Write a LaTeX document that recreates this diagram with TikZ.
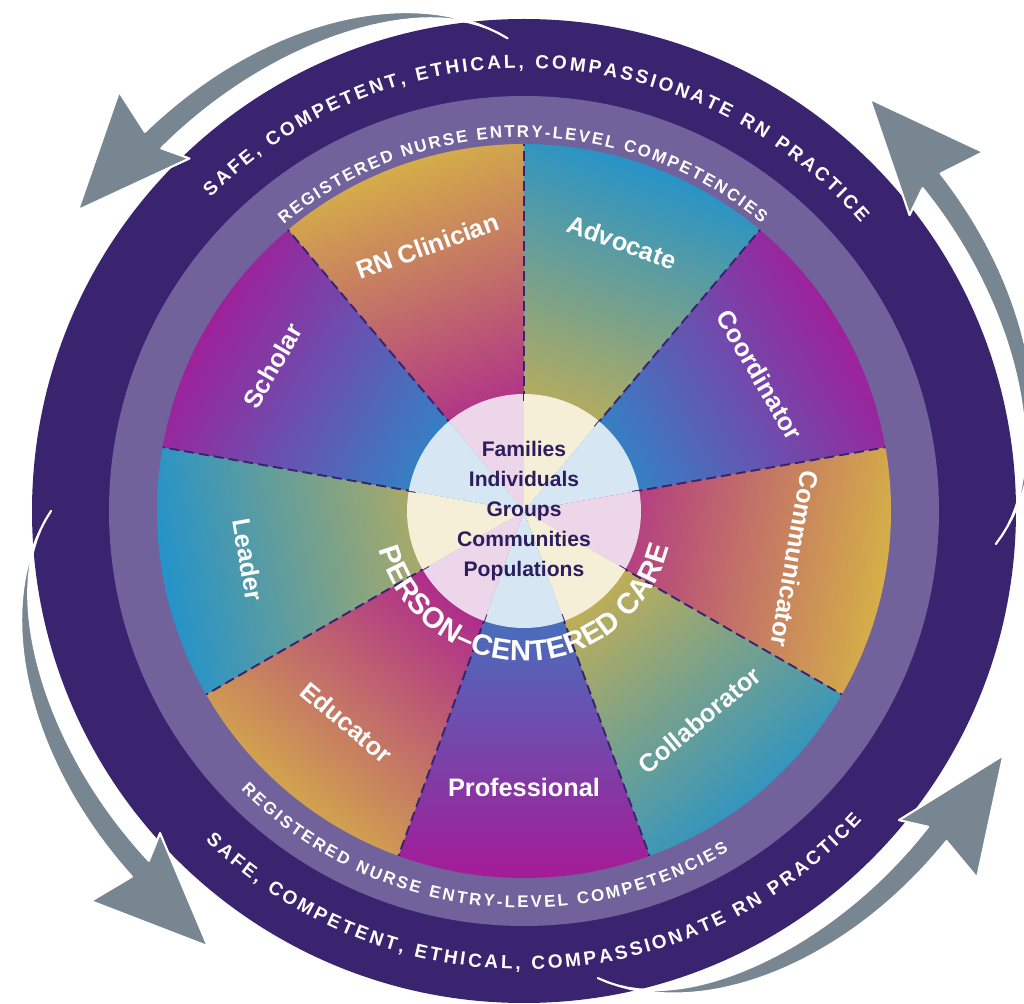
\documentclass[tikz,border=0pt]{standalone}
\usepackage{fontspec}
\setmainfont{Liberation Sans}
\usetikzlibrary{decorations.text}
\definecolor{ringdark}{RGB}{58,36,112}
\definecolor{ringmid}{RGB}{113,98,156}
\definecolor{wgold}{RGB}{214,178,70}
\definecolor{wblue}{RGB}{33,146,204}
\definecolor{wmag}{RGB}{168,24,150}
\definecolor{pinkc}{RGB}{238,214,234}
\definecolor{creamc}{RGB}{245,239,215}
\definecolor{bluec}{RGB}{214,231,243}
\definecolor{arrowgray}{RGB}{120,134,146}
\definecolor{navy}{RGB}{44,30,94}
\begin{document}
\begin{tikzpicture}[
    wedgelabel/.style={text=white, font=\bfseries\fontsize{7.2}{8}\selectfont, inner sep=0pt},
    divider/.style={draw=ringdark, line width=0.55pt, dash pattern=on 0.1cm off 0.05cm},
    loop arrow/.style={fill=arrowgray, draw=white, line width=0.6pt, line join=round}]
\useasboundingbox (0,0) rectangle (10.24,10.04);
\clip (0,0) rectangle (10.24,10.04);
\coordinate (c) at (5.24,4.93);
\fill[ringdark] (c) circle (4.92);
\fill[ringmid] (c) circle (4.15);
% competency wedges
\foreach \b/\co/\ci [evaluate=\b as \s using \b-20, evaluate=\b as \e using \b+20, evaluate=\b as \sa using \b-90] in
  {110/wgold/wmag, 70/wblue/wgold, 30/wmag/wblue, -10/wgold/wmag, -50/wblue/wgold,
   -90/wmag/wblue, -130/wgold/wmag, -170/wblue/wgold, -210/wmag/wblue}
  \shade[top color=\co, bottom color=\ci, shading angle=\sa] (c) -- ([shift={(\s:3.67)}]c) arc[start angle=\s, end angle=\e, radius=3.67] -- cycle;
% dividers and the inner circle
\foreach \b/\cp [evaluate=\b as \s using \b-20, evaluate=\b as \e using \b+20] in
  {110/pinkc, 70/creamc, 30/bluec, -10/pinkc, -50/creamc, -90/bluec, -130/pinkc, -170/creamc, -210/bluec}
{
  \draw[divider] ([shift={(\e:1.1)}]c) -- ([shift={(\e:3.67)}]c);
  \fill[\cp] (c) -- ([shift={(\s:1.17)}]c) arc[start angle=\s, end angle=\e, radius=1.17] -- cycle;
}
\node[wedgelabel, rotate=20] (clinician) at ([shift={(110:2.82)}]c) {RN Clinician};
\node[wedgelabel, rotate=-20] (advocate) at ([shift={(70:2.86)}]c) {Advocate};
\node[wedgelabel, rotate=-60] (coordinator) at ([shift={(30:2.72)}]c) {Coordinator};
\node[wedgelabel, rotate=-100] (communicator) at ([shift={(-10:2.75)}]c) {Communicator};
\node[wedgelabel, rotate=40] (collaborator) at ([shift={(-50:2.73)}]c) {Collaborator};
\node[wedgelabel] (professional) at ([shift={(-90:2.76)}]c) {Professional};
\node[wedgelabel, rotate=-40] (educator) at ([shift={(-130:2.76)}]c) {Educator};
\node[wedgelabel, rotate=-80] (leader) at ([shift={(190:2.8)}]c) {Leader};
\node[wedgelabel, rotate=60] (scholar) at ([shift={(150:2.9)}]c) {Scholar};
\node[text=navy, font=\bfseries\fontsize{6}{8.5}\selectfont, align=center] (groups) at (c) {Families\\Individuals\\Groups\\Communities\\Populations};
% ring texts
\path[decorate, decoration={text along path, text color=white, text align={fit to path},
    text={|\bfseries\fontsize{5.4}{6}\selectfont|SAFE, COMPETENT, ETHICAL, COMPASSIONATE RN PRACTICE}}]
  ([shift={(135:4.43)}]c) arc[start angle=135, end angle=40.5, radius=4.43];
\path[decorate, decoration={text along path, text color=white, text align={fit to path},
    text={|\bfseries\fontsize{5.4}{6}\selectfont|SAFE, COMPETENT, ETHICAL, COMPASSIONATE RN PRACTICE}}]
  ([shift={(226:4.585)}]c) arc[start angle=226, end angle=317.5, radius=4.585];
\path[decorate, decoration={text along path, text color=white, text align={fit to path},
    text={|\bfseries\fontsize{4.8}{5}\selectfont|REGISTERED NURSE ENTRY-LEVEL COMPETENCIES}}]
  ([shift={(130:3.735)}]c) arc[start angle=130, end angle=50.5, radius=3.735];
\path[decorate, decoration={text along path, text color=white, text align={fit to path},
    text={|\bfseries\fontsize{4.8}{5}\selectfont|REGISTERED NURSE ENTRY-LEVEL COMPETENCIES}}]
  ([shift={(224.5:3.97)}]c) arc[start angle=224.5, end angle=301, radius=3.97];
\path[decorate, decoration={text along path, text color=white, text align={fit to path},
    text={|\bfseries\fontsize{8.3}{9}\selectfont|PERSON–CENTERED CARE}}]
  ([shift={(195:1.5)}]c) arc[start angle=195, end angle=346, radius=1.5];
% the four loop arrows
\begin{scope}[shift={(c)}]
\foreach \a in {92,-4,180,279}
  \path[loop arrow] plot[domain=0:43, samples=40] ({\a+\x}:{4.73+0.40*(1-exp(-\x/7))})
    -- ({\a+41.5}:4.86) -- ({\a+54}:5.38) -- ({\a+42}:5.83)
    -- plot[domain=43:0, samples=40] ({\a+\x}:{4.73+0.65*(1-exp(-\x/12))}) -- cycle;
\end{scope}
\end{tikzpicture}
\end{document}
